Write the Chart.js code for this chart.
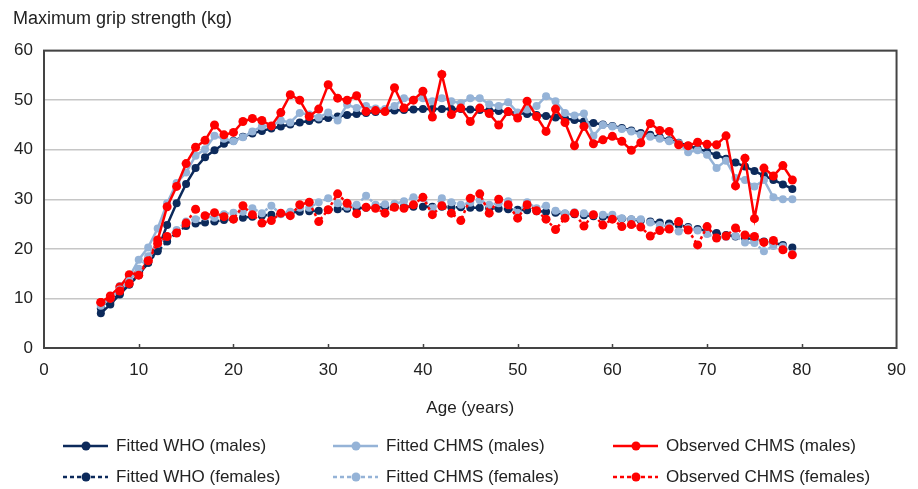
<!DOCTYPE html>
<html>
<head>
<meta charset="utf-8">
<script src="https://cdn.jsdelivr.net/npm/chart.js@4"></script>
<style>
  body { margin: 0; background: #fff; }
  #wrap { position: relative; width: 918px; height: 489px; }
  #legend { position: absolute; left: 0; top: 0; width: 918px; height: 489px; pointer-events: none;
            font-family: 'Liberation Sans', Arial, sans-serif; font-size: 17px; color: #222; }
  .item { position: absolute; display: flex; align-items: center; white-space: nowrap; height: 24px; }
  .item svg { margin-right: 8px; }
</style>
</head>
<body>
<div id="wrap">
  <canvas id="gripCanvas" width="918" height="489"></canvas>
  <div id="legend"></div>
</div>
<script>
const FONT = "'Liberation Sans', Arial, sans-serif";

// ages 6..79
const ages = Array.from({ length: 74 }, (_, i) => i + 6);

const xTicks = [0, 10, 20, 30, 40, 50, 60, 70, 80, 90];
const yTicks = [0, 10, 20, 30, 40, 50, 60];

const seriesNames = [
  "Fitted WHO (males)", "Fitted CHMS (males)", "Observed CHMS (males)",
  "Fitted WHO (females)", "Fitted CHMS (females)", "Observed CHMS (females)"
];

const whoMales = [
  7.0, 8.8, 10.8, 12.8, 14.8, 17.2, 19.8, 24.8, 29.2, 33.1,
  36.3, 38.5, 39.9, 41.2, 41.8, 42.6, 43.3, 43.8, 44.3, 44.7,
  45.1, 45.5, 45.8, 46.1, 46.4, 46.7, 47.0, 47.2, 47.4, 47.6,
  47.8, 47.9, 48.0, 48.1, 48.2, 48.2, 48.2, 48.2, 48.2, 48.1,
  48.0, 47.9, 47.8, 47.6, 47.4, 47.2, 47.0, 46.8, 46.5, 46.3,
  46.0, 45.7, 45.4, 45.1, 44.8, 44.4, 43.9, 43.4, 43.0, 42.5,
  41.9, 41.4, 40.8, 40.2, 39.6, 38.9, 38.2, 37.4, 36.6, 35.7,
  34.8, 33.9, 33.0, 32.1
];
const chmsMales = [
  8.5, 10.3, 12.5, 14.3, 17.8, 20.3, 24.1, 29.2, 33.3, 35.4,
  38.8, 40.1, 42.8, 42.2, 41.7, 42.5, 43.7, 44.7, 44.8, 45.9,
  45.5, 47.4, 47.1, 46.5, 47.5, 45.9, 49.1, 48.4, 48.8, 48.3,
  48.2, 48.8, 50.4, 50.1, 50.4, 49.8, 50.4, 49.8, 49.4, 50.4,
  50.4, 49.2, 48.8, 49.6, 47.5, 48.1, 48.8, 50.8, 49.8, 47.4,
  46.9, 47.3, 42.8, 45.0, 44.7, 44.2, 43.7, 43.0, 42.6, 42.2,
  41.7, 41.3, 39.5, 39.9, 39.0, 36.3, 37.8, 34.3, 33.9, 32.6,
  33.9, 30.4, 30.0, 30.0
];
const obsMales = [
  9.2, 10.5, 12.3, 14.8, 15.2, 17.6, 21.8, 28.5, 32.6, 37.2,
  40.5, 41.9, 45.0, 43.0, 43.5, 45.7, 46.3, 45.9, 44.8, 47.5,
  51.1, 50.0, 46.7, 48.2, 53.1, 50.4, 50.0, 50.9, 47.7, 47.9,
  47.7, 52.5, 48.4, 50.0, 51.8, 46.6, 55.2, 47.1, 48.4, 45.7,
  48.4, 47.3, 45.0, 47.7, 46.4, 49.8, 46.7, 43.7, 48.2, 45.5,
  40.8, 44.7, 41.2, 42.0, 42.7, 41.7, 39.9, 41.4, 45.3, 43.9,
  43.7, 41.0, 40.8, 41.5, 41.1, 41.0, 42.8, 32.7, 38.3, 26.1,
  36.3, 34.7, 36.8, 33.9
];
const whoFemales = [
  8.0, 9.3, 11.0, 12.8, 14.7, 17.2, 19.5, 21.5, 23.3, 24.6,
  25.1, 25.3, 25.5, 25.8, 26.0, 26.3, 26.5, 26.7, 26.9, 27.1,
  27.3, 27.5, 27.6, 27.7, 27.9, 28.0, 28.1, 28.2, 28.3, 28.4,
  28.4, 28.5, 28.5, 28.5, 28.5, 28.5, 28.5, 28.4, 28.4, 28.3,
  28.3, 28.2, 28.1, 28.0, 27.9, 27.8, 27.6, 27.5, 27.3, 27.1,
  27.0, 26.8, 26.6, 26.5, 26.3, 26.1, 25.9, 25.7, 25.5, 25.3,
  25.1, 24.8, 24.4, 24.0, 23.6, 23.2, 22.8, 22.5, 22.2, 21.9,
  21.5, 21.2, 20.8, 20.3
];
const chmsFemales = [
  8.5, 10.0, 11.8, 13.5, 16.0, 18.5, 21.0, 22.5, 23.8, 25.5,
  26.0, 26.5, 26.3, 27.0, 27.3, 27.5, 28.2, 27.2, 28.7, 27.0,
  27.5, 28.3, 28.3, 29.4, 30.2, 29.2, 28.5, 28.9, 30.7, 28.9,
  29.0, 29.1, 29.6, 30.4, 30.2, 28.2, 30.2, 29.4, 28.9, 29.3,
  29.8, 28.9, 29.2, 29.6, 27.3, 29.4, 28.2, 28.7, 27.7, 27.2,
  27.4, 27.2, 26.9, 26.9, 26.9, 26.2, 26.0, 26.0, 25.3, 24.8,
  24.5, 23.5, 24.2, 23.7, 23.0, 22.2, 22.4, 22.6, 21.3, 21.2,
  19.5, 20.6, 20.5, 19.0
];
const obsFemales = [
  9.2, 10.0, 11.5, 13.0, 14.7, 17.6, 21.1, 22.5, 23.2, 25.2,
  28.0, 26.7, 27.3, 26.5, 26.0, 28.7, 26.9, 25.2, 25.7, 27.2,
  26.7, 28.9, 29.4, 25.5, 27.9, 31.1, 29.2, 27.1, 28.4, 28.2,
  27.2, 28.4, 28.2, 28.9, 30.4, 26.9, 28.7, 27.2, 25.7, 30.2,
  31.1, 27.2, 30.0, 28.9, 26.2, 28.9, 27.7, 26.0, 23.9, 26.2,
  27.2, 24.6, 26.9, 24.8, 26.0, 24.5, 24.9, 24.4, 22.6, 23.7,
  24.0, 25.5, 23.8, 20.8, 24.5, 22.2, 22.6, 24.2, 22.8, 22.5,
  21.3, 21.7, 19.8, 18.8
];

const navy = "#0c2a5b";
const lightBlue = "#95b3d7";
const red = "#ff0000";

const seriesValues = [whoMales, chmsMales, obsMales, whoFemales, chmsFemales, obsFemales];
const seriesColors = [navy, lightBlue, red, navy, lightBlue, red];
const seriesDotted = [false, false, false, true, true, true];
const seriesOrder = [4, 3, 2, 1, 0, -1];

const datasets = seriesNames.map((name, i) => ({
  label: name,
  data: ages.map((a, j) => ({ x: a, y: seriesValues[i][j] })),
  borderColor: seriesColors[i],
  backgroundColor: seriesColors[i],
  pointBackgroundColor: seriesColors[i],
  pointBorderWidth: 0,
  pointRadius: seriesColors[i] === red ? 4.5 : 4,
  borderWidth: 2.5,
  borderDash: seriesDotted[i] ? [3, 3] : [],
  order: seriesOrder[i],
  tension: 0
}));

// box round the plot area plus little inward ticks on the x axis
const frame = {
  id: "frame",
  beforeDatasetsDraw(chart) {
    const { ctx, chartArea: a, scales: { x } } = chart;
    ctx.save();
    ctx.strokeStyle = "#444";
    ctx.lineWidth = 2;
    ctx.strokeRect(a.left, a.top, a.right - a.left, a.bottom - a.top);
    ctx.lineWidth = 1.5;
    xTicks.slice(1, -1).forEach(v => {
      const px = Math.round(x.getPixelForValue(v)) + 0.5;
      ctx.beginPath();
      ctx.moveTo(px, a.bottom);
      ctx.lineTo(px, a.bottom - 4);
      ctx.stroke();
    });
    ctx.restore();
  }
};

const gripChart = new Chart(document.getElementById("gripCanvas"), {
  type: "line",
  data: { datasets: datasets },
  plugins: [frame],
  options: {
    responsive: false,
    animation: false,
    devicePixelRatio: 1,
    layout: { padding: { left: 13, right: 17, top: 0, bottom: 70 } },
    plugins: {
      legend: { display: false },
      tooltip: { enabled: false },
      title: {
        display: true,
        text: "Maximum grip strength (kg)",
        align: "start",
        color: "#222",
        font: { family: FONT, size: 18, weight: "normal" },
        padding: { top: 8, bottom: 21 }
      }
    },
    scales: {
      x: {
        type: "linear",
        min: 0,
        max: 90,
        afterBuildTicks: s => { s.ticks = xTicks.map(v => ({ value: v })); },
        afterFit: s => { s.height = 71; },
        grid: { display: false, drawTicks: false },
        border: { display: false },
        ticks: { color: "#222", padding: 12, maxRotation: 0, font: { family: FONT, size: 17 } },
        title: {
          display: true,
          text: "Age (years)",
          color: "#222",
          font: { family: FONT, size: 17 },
          padding: { top: 0, bottom: 0 }
        }
      },
      y: {
        min: 0,
        max: 60,
        afterBuildTicks: s => { s.ticks = yTicks.map(v => ({ value: v })); },
        afterFit: s => { s.width = 31; },
        grid: { color: "#c6c6c6", lineWidth: 1.5, drawTicks: false },
        border: { display: false },
        ticks: { color: "#222", padding: 11, font: { family: FONT, size: 17 } }
      }
    }
  }
});

// legend laid out in three columns, two rows, built from the datasets
const legendCols = [63, 333, 613];
const legendRows = [446, 477];
const legendEl = document.getElementById("legend");
gripChart.data.datasets.forEach((ds, i) => {
  const item = document.createElement("div");
  item.className = "item";
  item.style.left = legendCols[i % 3] + "px";
  item.style.top = (legendRows[Math.floor(i / 3)] - 12) + "px";
  const dash = seriesDotted[i] ? ' stroke-dasharray="4 3"' : "";
  item.innerHTML =
    '<svg width="45" height="12"><line x1="0" y1="6" x2="45" y2="6" stroke="' + ds.borderColor +
    '" stroke-width="2.5"' + dash + '/><circle cx="23" cy="6" r="4.5" fill="' + ds.borderColor + '"/></svg>' +
    '<span>' + ds.label + '</span>';
  legendEl.appendChild(item);
});
</script>
</body>
</html>
